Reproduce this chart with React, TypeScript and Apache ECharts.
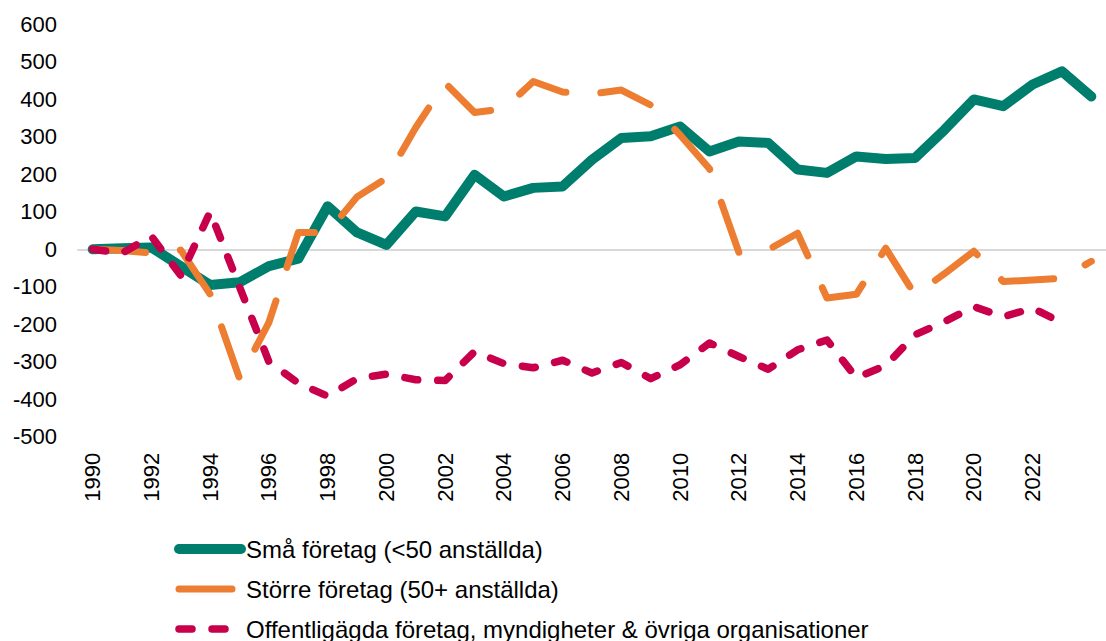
import React, { useEffect, useRef } from "react";
import * as echarts from "echarts";

const years = [
  "1990", "1991", "1992", "1993", "1994", "1995", "1996", "1997", "1998", "1999",
  "2000", "2001", "2002", "2003", "2004", "2005", "2006", "2007", "2008", "2009",
  "2010", "2011", "2012", "2013", "2014", "2015", "2016", "2017", "2018", "2019",
  "2020", "2021", "2022", "2023", "2024",
];

const smallFirms = [
  0, 3, 5, -45, -95, -88, -45, -25, 115, 45,
  12, 101, 88, 199, 141, 164, 168, 239, 297, 302,
  328, 261, 288, 284, 213, 204, 248, 241, 244, 319,
  400, 382, 440, 475, 408,
];

const largeFirms = [
  0, -3, -10, -2, -120, -345, -195, 45, 45, 140,
  190, 325, 444, 365, 375, 448, 420, 415, 425, 385,
  305, 215, -8, -1, 43, -130, -120, 3, -122, -65,
  -5, -86, -82, -77, -32,
];

const publicOrgs = [
  0, -10, 35, -70, 100, -100, -300, -357, -392, -345,
  -333, -348, -350, -273, -305, -316, -296, -330, -302, -345,
  -308, -250, -286, -320, -268, -242, -343, -310, -228, -193,
  -153, -180, -157, -196, null,
];

const seriesNames = [
  "Små företag (<50 anställda)",
  "Större företag (50+ anställda)",
  "Offentligägda företag, myndigheter & övriga organisationer",
];

const yMin = -500;
const yMax = 600;
const yStep = 100;

const FONT = "'Liberation Sans', Arial, sans-serif";

export default function App() {
  const ref = useRef<HTMLDivElement>(null);

  useEffect(() => {
    if (!ref.current) return;
    const chart = echarts.init(ref.current, null, { renderer: "svg" });
    chart.setOption({
      animation: false,
      backgroundColor: "#ffffff",
      grid: { left: 78, top: 24.5, width: 1036, height: 412.2, containLabel: false },
      legend: {
        orient: "vertical",
        left: 174,
        top: 537,
        height: 140,
        padding: 0,
        itemWidth: 62,
        itemHeight: 14,
        itemGap: 16,
        data: seriesNames,
        textStyle: { fontSize: 24, color: "#000", fontFamily: FONT },
        lineStyle: { width: "inherit" },
        itemStyle: { opacity: 0 },
      },
      xAxis: [
        {
          type: "category",
          data: years,
          boundaryGap: true,
          position: "bottom",
          axisLine: { show: false, onZero: false },
          axisTick: { show: false },
          axisLabel: {
            rotate: 90,
            interval: 1,
            showMaxLabel: false,
            fontSize: 22,
            color: "#000",
            margin: 16,
            fontFamily: FONT,
          },
          splitLine: { show: false },
        },
        {
          type: "category",
          data: years,
          boundaryGap: true,
          position: "bottom",
          axisLine: { show: true, onZero: true, lineStyle: { color: "#d9d9d9", width: 2 } },
          axisTick: { show: false },
          axisLabel: { show: false },
          splitLine: { show: false },
        },
      ],
      yAxis: {
        type: "value",
        min: yMin,
        max: yMax,
        interval: yStep,
        axisLine: { show: false },
        axisTick: { show: false },
        splitLine: { show: false },
        axisLabel: { fontSize: 22, color: "#000", margin: 21, fontFamily: FONT },
      },
      series: [
        {
          name: seriesNames[0],
          type: "line",
          data: smallFirms,
          symbol: "none",
          lineStyle: { color: "#007E6D", width: 10, cap: "round", join: "round" },
          itemStyle: { color: "#007E6D" },
        },
        {
          name: seriesNames[1],
          type: "line",
          data: largeFirms,
          symbol: "none",
          lineStyle: { color: "#ED7D31", width: 7, type: [53, 35], cap: "round", join: "round" },
          itemStyle: { color: "#ED7D31" },
        },
        {
          name: seriesNames[2],
          type: "line",
          data: publicOrgs,
          symbol: "none",
          lineStyle: { color: "#C8004B", width: 7.5, type: [13, 20], cap: "round", join: "round" },
          itemStyle: { color: "#C8004B" },
        },
      ],
    });
    return () => chart.dispose();
  }, []);

  return (
    <div
      ref={ref}
      style={{ position: "absolute", left: 0, top: 0, width: 1106, height: 641 }}
    />
  );
}
